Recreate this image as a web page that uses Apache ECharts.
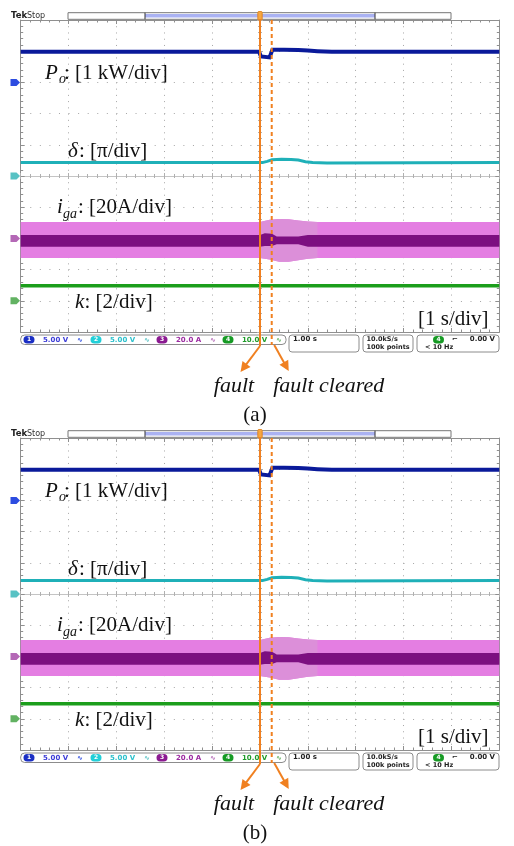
<!DOCTYPE html>
<html><head><meta charset="utf-8">
<script src="https://cdn.jsdelivr.net/npm/echarts@6/dist/echarts.min.js"></script>
<style>html,body{margin:0;padding:0;background:#fff}#c{width:514px;height:846px}</style>
</head><body><div id="c"></div>
<script>
// ================= DATA =================
const panelNames = ['(a)', '(b)'];
const faultTime = 0;        // s (trigger, centre of screen)
const clearTime = 0.245;    // s

// P_o  [kW], relative to channel-1 marker
const poTime = [-5, -0.02, 0.02, 0.06, 0.2, 0.23, 0.26, 0.5, 0.8, 1.0, 1.2, 1.5, 5];
const poKW   = [0.98, 0.98, 0.83, 0.80, 0.80, 0.82, 1.05, 1.05, 1.04, 1.02, 1.0, 0.98, 0.98];

// delta [pi rad], relative to channel-2 marker
const deltaTime = [-5, 0.05, 0.15, 0.25, 0.45, 0.65, 0.8, 0.95, 1.1, 1.4, 5];
const deltaPi   = [0.43, 0.43, 0.47, 0.52, 0.535, 0.53, 0.51, 0.46, 0.43, 0.42, 0.43];

// i_ga envelope [A], relative to channel-3 marker
const iTime   = [-5, 0, 0.2, 0.4, 0.6, 0.8, 1.0, 1.2, 5];
const iUpperA = [10.5, 10.5, 12.0, 12.4, 12.2, 11.5, 10.9, 10.5, 10.5];
const iLowerA = [-12.6, -12.6, -13.5, -14.9, -14.9, -14.0, -13.0, -12.6, -12.6];
// transient (post-fault) part of the envelope
const iFadeTime   = [0, 0.2, 0.4, 0.6, 0.8, 1.0, 1.2];
const iFadeUpperA = [10.5, 12.0, 12.4, 12.2, 11.5, 10.9, 10.5];
const iFadeLowerA = [-12.6, -13.5, -14.9, -14.9, -14.0, -13.0, -12.6];
// dense core of i_ga
const coreTime   = [-5, 0, 0.1, 0.25, 0.35, 0.8, 1.0, 5];
const coreUpperA = [2.2, 2.2, 3.3, 3.0, 1.2, 1.2, 2.2, 2.2];
const coreLowerA = [-5.3, -5.3, -4.8, -4.8, -3.8, -3.8, -5.3, -5.3];

// k, relative to channel-4 marker
const kTime  = [-5, 5];
const kValue = [0.97, 0.97];

// channel scale (units/div) and marker position (div from screen centre)
const chPo = {scale: 1, marker: 3};
const chDelta = {scale: 1, marker: 0};
const chI = {scale: 20, marker: -2};
const chK = {scale: 2, marker: -4};

// status bar texts
const statusChannels = [['1', '5.00 V'], ['2', '5.00 V'], ['3', '20.0 A'], ['4', '10.0 V']];
const timeBase = '1.00 s';
const sampleRate = ['10.0kS/s', '100k points'];
const trigInfo = ['4', '0.00 V', '< 10 Hz'];

// ================= LAYOUT / STYLE =================
const GL = 20.7, GW = 478.6, GH = 312;
const DY = [0, 418];
const SERIF = '"Liberation Serif","Times New Roman",serif';
const SANS = '"DejaVu Sans",sans-serif';
const ORANGE = '#f08020';
const chColors = [
  {pill: '#1b2fc4', text: '#3b3bd6', mark: '#2c4ce0'},
  {pill: '#22cfd8', text: '#2cc0cc', mark: '#58c2c4'},
  {pill: '#8b1a91', text: '#9b2aa0', mark: '#b468b6'},
  {pill: '#169a24', text: '#1f9b2a', mark: '#62b262'}
];

const chart = echarts.init(document.getElementById('c'), null, {renderer: 'canvas', width: 514, height: 846});

const grids = [], xAxes = [], yAxes = [], series = [];
const frameCol = '#8f8f8f', dotCol = '#a6a6a6', centreCol = '#c4c4c4';

function mkAxis(p, pos, onZero, isX) {
  const border = !onZero;
  const ax = {
    type: 'value', gridIndex: p, min: -5, max: 5, interval: 1, position: pos,
    axisLabel: {show: false},
    axisLine: {show: true, onZero: onZero, lineStyle: {color: border ? frameCol : centreCol, width: 1}},
    axisTick: {show: true, inside: border, length: border ? 4 : 3, lineStyle: {color: border ? frameCol : '#b0b0b0'}},
    minorTick: {show: true, splitNumber: 5, length: border ? 2.5 : 2, lineStyle: {color: border ? frameCol : '#b0b0b0'}},
    splitLine: {show: false}
  };
  if (border && (pos === 'bottom' || pos === 'left')) {
    ax.splitLine = {show: true, lineStyle: {color: dotCol, width: 1, type: isX ? [1, 5.24] : [1, 8.57]}};
  }
  return ax;
}

for (let p = 0; p < 2; p++) {
  grids.push({left: GL, top: 20 + DY[p], width: GW, height: GH, containLabel: false, outerBoundsMode: 'none'});
  xAxes.push(mkAxis(p, 'bottom', false, true), mkAxis(p, 'top', false, true), mkAxis(p, 'bottom', true, true), mkAxis(p, 'top', true, true));
  yAxes.push(mkAxis(p, 'left', false, false), mkAxis(p, 'right', false, false), mkAxis(p, 'left', true, false), mkAxis(p, 'right', true, false));
}

const toDiv = (t, v, c) => t.map((x, i) => [x, v[i] / c.scale + c.marker]);

function lineS(p, data, color, width) {
  return {type: 'line', xAxisIndex: 4 * p, yAxisIndex: 4 * p, data, symbol: 'none', showSymbol: false,
    silent: true, animation: false, lineStyle: {color, width, cap: 'butt', join: 'miter'}};
}
// envelope band: polygon through the upper and lower envelope points, mapped by the axes
function bandS(p, t, up, lo, c, color) {
  const pts = t.map((x, i) => [x, up[i] / c.scale + c.marker, lo[i] / c.scale + c.marker]);
  return {
    type: 'custom', xAxisIndex: 4 * p, yAxisIndex: 4 * p, data: pts, encode: {x: 0, y: [1, 2]},
    silent: true, animation: false, clip: true,
    renderItem: (params, api) => {
      if (params.dataIndex !== 0) return null;
      const top = pts.map(q => api.coord([q[0], q[1]]));
      const bot = pts.map(q => api.coord([q[0], q[2]])).reverse();
      return {type: 'polygon', shape: {points: top.concat(bot)}, style: {fill: color}};
    }
  };
}

for (let p = 0; p < 2; p++) {
  series.push(bandS(p, iTime, iUpperA, iLowerA, chI, '#e47ee2'));
  series.push(bandS(p, iFadeTime, iFadeUpperA, iFadeLowerA, chI, '#dc8fd9'));
  series.push(bandS(p, coreTime, coreUpperA, coreLowerA, chI, '#7c0f80'));
  series.push(lineS(p, toDiv(poTime, poKW, chPo), '#0a1a9a', 4));
  series.push(lineS(p, toDiv(deltaTime, deltaPi, chDelta), '#1fb0b8', 3));
  series.push(lineS(p, toDiv(kTime, kValue, chK), '#1c9e1c', 3.5));
}

chart.setOption({animation: false, grid: grids, xAxis: xAxes, yAxis: yAxes, series});

// ================= GRAPHIC OVERLAY =================
const g = [];
function T(x, y, text, font, fill, align, vAlign) {
  g.push({type: 'text', x, y, z: 100, silent: true,
    style: {text, font, fill, textAlign: align || 'left', textVerticalAlign: vAlign || 'middle'}});
}
function serif(x, base, text, size, italic) {
  T(x, base - 0.34 * size, text, (italic ? 'italic ' : '') + size + 'px ' + SERIF, '#111');
}
function R(x, y, w, h, r, fill, stroke, lw) {
  g.push({type: 'rect', z: 100, silent: true, shape: {x, y, width: w, height: h, r: r || 0},
    style: {fill: fill || 'none', stroke: stroke || 'none', lineWidth: lw || 1}});
}
function L(x1, y1, x2, y2, color, w, dash) {
  g.push({type: 'line', z: 101, silent: true, shape: {x1, y1, x2, y2},
    style: {stroke: color, lineWidth: w, lineDash: dash || null}});
}
function arrow(x0, y0, x1, y1) {
  const dx = x1 - x0, dy = y1 - y0, len = Math.hypot(dx, dy), ux = dx / len, uy = dy / len;
  const bx = x1 - ux * 10, by = y1 - uy * 10;
  L(x0, y0, bx + ux * 2, by + uy * 2, ORANGE, 2);
  g.push({type: 'polygon', z: 101, silent: true,
    shape: {points: [[x1, y1], [bx - uy * 5, by + ux * 5], [bx + uy * 5, by - ux * 5]]},
    style: {fill: ORANGE}});
}

for (let p = 0; p < 2; p++) {
  const d = DY[p];
  const xF = chart.convertToPixel({xAxisIndex: 4 * p}, faultTime);
  const xC = chart.convertToPixel({xAxisIndex: 4 * p}, clearTime);

  // header
  T(11, 15.5 + d, 'Tek', 'bold 8.5px ' + SANS, '#222');
  T(27, 15.5 + d, 'Stop', '8px ' + SANS, '#333');
  R(68, 12.7 + d, 383, 6.6, 0, '#fff', '#777', 1);
  R(145, 14 + d, 230, 3.6, 0, '#aab2f2');
  L(145, 12.7 + d, 145, 19.3 + d, '#333', 1);
  L(375, 12.7 + d, 375, 19.3 + d, '#333', 1);

  // channel markers
  [chPo, chDelta, chI, chK].forEach((c, i) => {
    const y = chart.convertToPixel({yAxisIndex: 4 * p}, c.marker);
    g.push({type: 'polygon', z: 100, silent: true,
      shape: {points: [[10.5, y - 3.5], [16.5, y - 3.5], [20, y], [16.5, y + 3.5], [10.5, y + 3.5]]},
      style: {fill: chColors[i].mark}});
  });

  // trace labels
  serif(45, 81 + d, 'P', 21, true); serif(59, 84.5 + d, 'o', 14, true); serif(64, 81 + d, ': [1 kW/div]', 21, false);
  serif(68, 159 + d, 'δ', 21, true); serif(79, 159 + d, ': [π/div]', 21, false);
  serif(57, 215 + d, 'i', 21, true); serif(63, 219 + d, 'ga', 14, true); serif(78, 215 + d, ': [20A/div]', 21, false);
  serif(75, 310 + d, 'k', 21, true); serif(84.5, 310 + d, ': [2/div]', 21, false);
  serif(418, 327 + d, '[1 s/div]', 21, false);

  // status bar
  R(20.7, 335 + d, 265.3, 9.5, 4, '#fff', '#8c8c8c', 1);
  R(289, 335 + d, 70, 17, 3, '#fff', '#8c8c8c', 1);
  R(363, 335 + d, 50, 17, 3, '#fff', '#8c8c8c', 1);
  R(417, 335 + d, 82, 17, 3, '#fff', '#8c8c8c', 1);
  const pillX = [29, 96, 162, 228];
  statusChannels.forEach((s, i) => {
    const cx = pillX[i];
    R(cx - 5.5, 336 + d, 11, 7.5, 3.75, chColors[i].pill);
    T(cx, 339.9 + d, s[0], 'bold 6px ' + SANS, '#fff', 'center');
    T(cx + 14, 339.9 + d, s[1], 'bold 7px ' + SANS, chColors[i].text);
    T(cx + 51, 339.9 + d, '∿', 'bold 7px ' + SANS, chColors[i].mark, 'center');
  });
  T(293, 339.5 + d, timeBase, 'bold 7px ' + SANS, '#222');
  T(366.5, 339.5 + d, sampleRate[0], 'bold 6.5px ' + SANS, '#222');
  T(366.5, 347.5 + d, sampleRate[1], 'bold 6.5px ' + SANS, '#222');
  R(433, 336 + d, 11, 7.5, 3.75, chColors[3].pill);
  T(438.5, 339.9 + d, trigInfo[0], 'bold 6px ' + SANS, '#fff', 'center');
  T(455, 339.5 + d, '⌐', 'bold 7px ' + SANS, '#222', 'center');
  T(495, 339.5 + d, trigInfo[1], 'bold 7px ' + SANS, '#222', 'right');
  T(425, 347.5 + d, trigInfo[2], 'bold 6.5px ' + SANS, '#222');

  // fault markers
  R(xF - 2.2, 11.5 + d, 4.4, 8.5, 1, '#f5a742', '#e07b10', 0.8);
  L(xF, 19 + d, xF, 346 + d, ORANGE, 2);
  L(xC, 20 + d, xC, 345 + d, ORANGE, 2, [4, 3]);
  arrow(xF, 346 + d, xF - 19.5, 372 + d);
  arrow(xC + 2.5, 345 + d, xC + 17, 371 + d);
  T(xF - 26, 386 + d, 'fault', 'italic 22px ' + SERIF, '#111', 'center');
  T(xC + 57, 386 + d, 'fault cleared', 'italic 22px ' + SERIF, '#111', 'center');
  T(255, 415 + d, panelNames[p], '21px ' + SERIF, '#111', 'center');
}

chart.setOption({graphic: {elements: g}});
</script>
</body></html>
